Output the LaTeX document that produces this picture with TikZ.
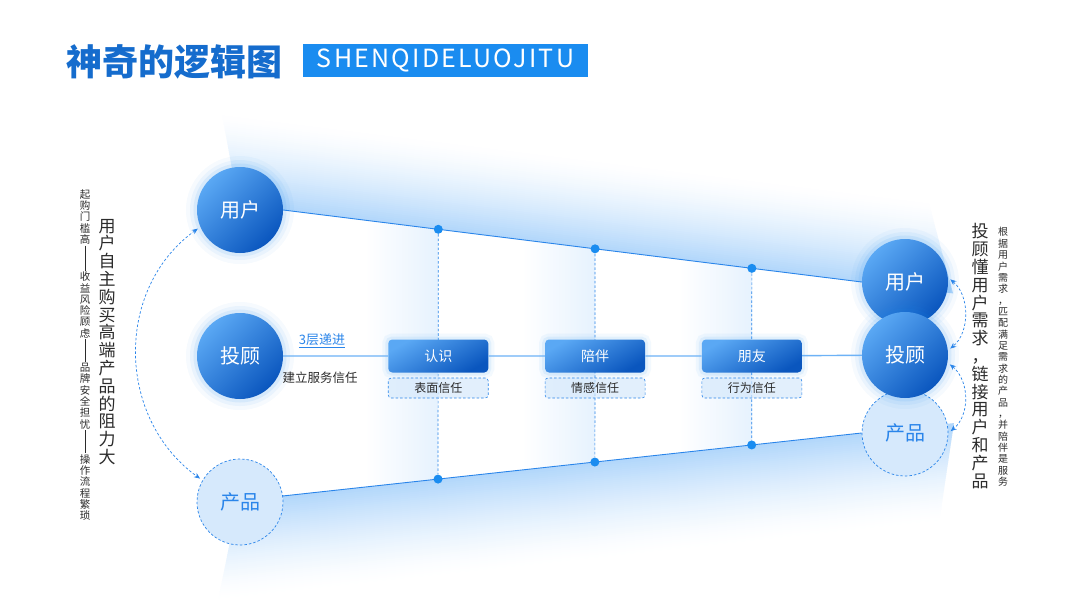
\documentclass[tikz,border=0pt]{standalone}
\usepackage{fontspec}
\setmainfont{Noto Sans CJK SC}
\newfontfamily\widefont[LetterSpace=9]{Noto Sans CJK SC}
\usetikzlibrary{arrows.meta,backgrounds,positioning}

\definecolor{mainblue}{HTML}{1A8CF0}
\definecolor{darkblue}{HTML}{0A56BE}
\definecolor{lightblue}{HTML}{5AA8F4}
\definecolor{lineblue}{HTML}{2A85EA}
\definecolor{midblue}{HTML}{6DB2F6}
\definecolor{paleblue}{HTML}{D6E9FC}
\definecolor{bandblue}{HTML}{B2D7FB}
\definecolor{stripblue}{HTML}{E6F2FE}
\definecolor{titleblue}{HTML}{156CCD}
\definecolor{textgray}{HTML}{2B2B2B}

\tikzset{
  glow/.style={preaction={draw=mainblue, draw opacity=0.04, line width=22pt},
    preaction={draw=mainblue, draw opacity=0.06, line width=14pt},
    preaction={draw=mainblue, draw opacity=0.09, line width=7pt}},
  softglow/.style={preaction={draw=mainblue, draw opacity=0.05, line width=12pt},
    preaction={draw=mainblue, draw opacity=0.08, line width=6pt}},
  ball/.style={circle, minimum size=86pt, inner sep=0pt, glow, top color=lightblue, bottom color=darkblue, shading angle=45, text=white, font=\fontsize{20pt}{20pt}\selectfont},
  ghost/.style={circle, minimum size=86pt, inner sep=0pt, fill=paleblue, draw=lineblue, dash pattern=on 2.5pt off 2pt, line width=0.7pt, text=lineblue, font=\fontsize{20pt}{20pt}\selectfont},
  stage/.style={rounded corners=4pt, minimum width=100pt, minimum height=33pt, inner sep=0pt, softglow, top color=lightblue, bottom color=darkblue, shading angle=30, text=white, font=\fontsize{14pt}{14pt}\selectfont},
  trust/.style={rounded corners=3pt, minimum width=100pt, minimum height=20pt, inner sep=0pt, fill=paleblue, fill opacity=0.7, text opacity=1, draw=lineblue, dash pattern=on 2.5pt off 2pt, line width=0.6pt, text=textgray, font=\fontsize{12pt}{12pt}\selectfont},
  edge/.style={lineblue, line width=0.9pt},
  midline/.style={midblue, line width=1.4pt},
  vline/.style={lineblue, line width=0.7pt, dash pattern=on 2.5pt off 2pt},
  dot/.style={circle, fill=mainblue, inner sep=0pt, minimum size=9pt},
  swap/.style={lineblue, line width=0.7pt, dash pattern=on 2.5pt off 2pt, {Stealth[length=6pt,width=5pt]}-{Stealth[length=6pt,width=5pt]}, shorten <=3pt, shorten >=3pt},
  bigv/.style={align=center, inner sep=0pt, text=textgray, font=\fontsize{17pt}{17.8pt}\selectfont},
  smallv/.style={align=center, inner sep=1pt, text=textgray, font=\fontsize{10.5pt}{11.3pt}\selectfont},
  bar/.style={textgray, line width=0.6pt}
}

\begin{document}
\begin{tikzpicture}[x=1pt,y=-1pt]
    \useasboundingbox (0,0) rectangle (1080,608);

    \node[anchor=west, inner sep=0pt, text=titleblue, font=\bfseries\fontsize{36pt}{36pt}\selectfont] (title) at (66,62) {神奇的逻辑图};
    \node[fill=mainblue, text=white, minimum width=285pt, minimum height=33pt, inner sep=0pt, font=\widefont\fontsize{25pt}{25pt}\selectfont] (tag) at (445.5,60.5) {SHENQIDELUOJITU};

    \node[ball] (u1) at (240,210) {用户};
    \node[ball] (a1) at (240,356) {投顾};
    \node[ghost] (p1) at (240,502) {产品};

    \node[ball] (u2) at (905,282) {用户};
    \node[ghost] (p2) at (905,433) {产品};
    \node[ball] (a2) at (905,355) {投顾};

    \draw[edge] (u1.east) -- (u2.west)
      node[dot, pos=0.268] (t1) {}
      node[dot, pos=0.539] (t2) {}
      node[dot, pos=0.81] (t3) {};
    \draw[edge] (p1.8) -- (p2.west)
      node[dot, pos=0.268] (b1) {}
      node[dot, pos=0.539] (b2) {}
      node[dot, pos=0.81] (b3) {};

    \node[stage] (k1) at (t1 |- a1) {认识};
    \node[stage] (k2) at (t2 |- a1) {陪伴};
    \node[stage] (k3) at (t3 |- a1) {朋友};
    \node[trust, below=5pt of k1] (r1) {表面信任};
    \node[trust, below=5pt of k2] (r2) {情感信任};
    \node[trust, below=5pt of k3] (r3) {行为信任};
    \draw[midline] (a1) -- (k1) -- (k2) -- (k3) -- (a2);

    \node[text=lineblue, font=\fontsize{13pt}{13pt}\selectfont] (lvl) at (322,341) {\underline{3层递进}};
    \node[text=textgray, font=\fontsize{12.5pt}{12.5pt}\selectfont] (base) at (320,378) {建立服务信任};

    \draw[swap] (u1.203) .. controls +(-86,62) and +(-86,-62) .. (p1.150);
    \draw[swap] (u2.6) .. controls +(22,18) and +(22,-18) .. (a2.6);
    \draw[swap] (a2.-10) .. controls +(22,18) and +(22,-18) .. (p2.0);

    \node[bigv] (lefthead) at (107,342) {用\\户\\自\\主\\购\\买\\高\\端\\产\\品\\的\\阻\\力\\大};
    \node[smallv] (s1) at (85,217) {起\\购\\门\\槛\\高};
    \node[smallv] (s2) at (85,305) {收\\益\\风\\险\\顾\\虑};
    \node[smallv] (s3) at (85,396) {品\\牌\\安\\全\\担\\忧};
    \node[smallv] (s4) at (85,487.5) {操\\作\\流\\程\\繁\\琐};
    \draw[bar] (s1) -- (s2);
    \draw[bar] (s2) -- (s3);
    \draw[bar] (s3) -- (s4);

    \node[bigv] (righthead) at (980,356) {投\\顾\\懂\\用\\户\\需\\求\\，\\链\\接\\用\\户\\和\\产\\品};
    \node[smallv, font=\fontsize{10pt}{11.35pt}\selectfont] (rightnote) at (1003,357) {根\\据\\用\\户\\需\\求\\，\\匹\\配\\满\\足\\需\\求\\的\\产\\品\\，\\并\\陪\\伴\\是\\服\\务};

    \begin{scope}[on background layer]
      \fill[white] (0,0) rectangle (1080,608);
      \begin{scope}
        \clip (u1.east) -- (u2.west) -- (p2.west) -- (p1.8) -- cycle;
        \foreach \x in {365,522,679}
          \shade[left color=white, right color=stripblue] (\x,150) rectangle (\x+73,560);
      \end{scope}
      \begin{scope}[shift={(u1.east)}, rotate=-7.1]
        \clip (-45,0) -- (-72,-86) -- (640,-86) -- (675,0) -- cycle;
        \foreach \d [evaluate=\d as \m using {max(0,100*(1-\d/88)^1.5)}] in {0,2,...,86}
          \fill[bandblue!\m] (-90,-\d) rectangle (700,-\d-2.6);
      \end{scope}
      \begin{scope}[shift={(p1.8)}, rotate=6.2]
        \clip (-45,0) -- (675,0) -- (650,95) -- (-75,95) -- cycle;
        \foreach \d [evaluate=\d as \m using {max(0,100*(1-\d/96)^1.5)}] in {0,2,...,94}
          \fill[bandblue!\m] (-90,\d) rectangle (700,\d+2.6);
      \end{scope}
      \foreach \i in {1,2,3}
        \draw[vline] (t\i) -- (b\i);
    \end{scope}
\end{tikzpicture}
\end{document}
